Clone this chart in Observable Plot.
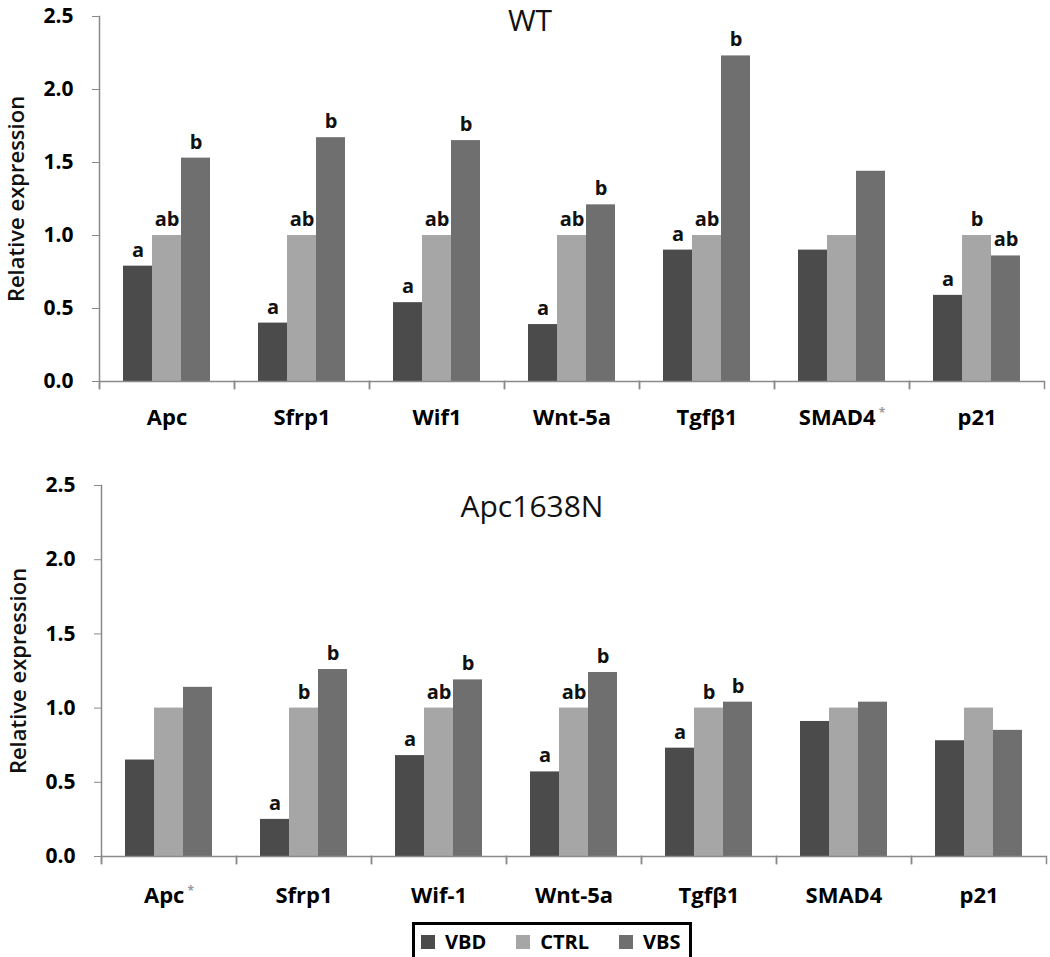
<!DOCTYPE html>
<html>
<head>
<meta charset="utf-8">
<script src="https://cdn.jsdelivr.net/npm/d3@7"></script>
<script src="https://cdn.jsdelivr.net/npm/@observablehq/plot@0.6"></script>
<style>
  html, body { margin: 0; padding: 0; background: #fff; }
  #chart { width: 1050px; font-family: "Open Sans", sans-serif; }
  #legendWrap { padding-left: 412px; margin-top: 7px; }
  #legendBox { display: inline-block; border: 3px solid #000; padding: 0 8px 0 6px; line-height: 1.2; }
  .lg-swatch { margin-right: 30px !important; }
  .lg-swatch:last-child { margin-right: 0 !important; }
</style>
</head>
<body>
<div id="chart"></div>
<script>
// ---------- data ----------
const series = ["VBD", "CTRL", "VBS"];
const seriesColors = ["#4b4b4b", "#a6a6a6", "#6f6f6f"];

const categoriesWT = ["Apc", "Sfrp1", "Wif1", "Wnt-5a", "Tgfβ1", "SMAD4", "p21"];
const wtVBD  = [0.79, 0.40, 0.54, 0.39, 0.90, 0.90, 0.59];
const wtCTRL = [1.00, 1.00, 1.00, 1.00, 1.00, 1.00, 1.00];
const wtVBS  = [1.53, 1.67, 1.65, 1.21, 2.23, 1.44, 0.86];
const wtLetVBD  = ["a", "a", "a", "a", "a", "", "a"];
const wtLetCTRL = ["ab", "ab", "ab", "ab", "ab", "", "b"];
const wtLetVBS  = ["b", "b", "b", "b", "b", "", "ab"];
const wtStarred = "SMAD4";

const categoriesApc = ["Apc", "Sfrp1", "Wif-1", "Wnt-5a", "Tgfβ1", "SMAD4", "p21"];
const apcVBD  = [0.65, 0.25, 0.68, 0.57, 0.73, 0.91, 0.78];
const apcCTRL = [1.00, 1.00, 1.00, 1.00, 1.00, 1.00, 1.00];
const apcVBS  = [1.14, 1.26, 1.19, 1.24, 1.04, 1.04, 0.85];
const apcLetVBD  = ["", "a", "a", "a", "a", "", ""];
const apcLetCTRL = ["", "b", "ab", "ab", "b", "", ""];
const apcLetVBS  = ["", "b", "b", "b", "b", "", ""];
const apcStarred = "Apc";

const yTicks = [0, 0.5, 1.0, 1.5, 2.0, 2.5];
const yLabel = "Relative expression";
const titles = ["WT", "Apc1638N"];

// ---------- helpers ----------
const FONT = "'Open Sans', sans-serif";

function toRows(cats, vals, lets) {
  const rows = [];
  cats.forEach((c, i) => {
    series.forEach((s, j) => rows.push({cat: c, series: s, value: vals[j][i], letter: lets[j][i]}));
  });
  return rows;
}

function panel({cats, vals, lets, title, starred, height, marginTop, marginBottom, marginLeft, marginRight, tickPadding, titleDy}) {
  const rows = toRows(cats, vals, lets);
  const plotH = height - marginTop - marginBottom;
  const axisGray = "#8a8a8a";
  const svg = Plot.plot({
    width: 1050,
    height, marginTop, marginBottom, marginLeft, marginRight,
    style: {fontFamily: FONT, background: "#fff", color: "#000", overflow: "visible"},
    fx: {domain: cats, paddingInner: 0, paddingOuter: 0, label: null},
    x: {domain: series, paddingInner: 0, paddingOuter: 0.76, axis: null},
    y: {domain: [0, 2.5], label: null},
    color: {domain: series, range: seriesColors},
    marks: [
      Plot.barY(rows, {fx: "cat", x: "series", y: "value", fill: "series"}),
      Plot.ruleY([0], {stroke: axisGray, strokeWidth: 1.5}),
      Plot.frame({anchor: "left", facetAnchor: "left", stroke: axisGray, strokeWidth: 1.5, insetBottom: -7}),
      Plot.frame({anchor: "left", stroke: axisGray, strokeWidth: 1.5, insetTop: plotH, insetBottom: -7}),
      Plot.frame({anchor: "right", stroke: axisGray, strokeWidth: 1.5, insetTop: plotH, insetBottom: -7}),
      Plot.text(rows.filter(d => d.letter), {fx: "cat", x: "series", y: "value", text: "letter",
        dy: -16, fontSize: 20, fontWeight: "bold", fill: "#111"}),
      Plot.axisY({ticks: yTicks, tickFormat: d3.format(".1f"), tickSize: 7, tickPadding: 19,
        stroke: axisGray, fontSize: 21, fontWeight: "bold", label: null}),
      Plot.axisFx({anchor: "bottom", tickSize: 0, tickPadding, fontSize: 22, fontWeight: "bold", label: null}),
      Plot.text([yLabel], {facet: "super", frameAnchor: "left", text: d => d, rotate: -90,
        textAnchor: "middle", lineAnchor: "middle", ariaLabel: "y-title",
        dx: -83, fontSize: 22, fontWeight: "600", fill: "#111"}),
      Plot.text([title], {facet: "super", frameAnchor: "top", text: d => d, dx: -42, dy: titleDy,
        lineAnchor: "top", fontSize: 30, fill: "#111"})
    ]
  });
  // stretch the y title to the reference's length
  svg.querySelectorAll('g[aria-label="y-title"] text').forEach(t => {
    t.setAttribute("textLength", "228");
    t.setAttribute("lengthAdjust", "spacing");
  });
  // superscript asterisk on the starred category label
  svg.querySelectorAll('[aria-label="fx-axis tick label"] text').forEach(t => {
    if (t.textContent === starred) {
      const ts = document.createElementNS("http://www.w3.org/2000/svg", "tspan");
      ts.setAttribute("dy", "-0.7em");
      ts.setAttribute("font-size", "12");
      ts.setAttribute("fill", "#999");
      ts.setAttribute("dx", "3");
      ts.textContent = "*";
      t.appendChild(ts);
    }
  });
  return svg;
}

const root = document.getElementById("chart");
root.appendChild(panel({
  cats: categoriesWT, vals: [wtVBD, wtCTRL, wtVBS], lets: [wtLetVBD, wtLetCTRL, wtLetVBS],
  title: titles[0], starred: wtStarred,
  height: 445, marginTop: 16, marginBottom: 64, marginLeft: 98, marginRight: 5, tickPadding: 28, titleDy: -7
}));
root.appendChild(panel({
  cats: categoriesApc, vals: [apcVBD, apcCTRL, apcVBS], lets: [apcLetVBD, apcLetCTRL, apcLetVBS],
  title: titles[1], starred: apcStarred,
  height: 470, marginTop: 40, marginBottom: 59, marginLeft: 100, marginRight: 3, tickPadding: 31, titleDy: 10
}));

const legend = Plot.legend({
  color: {domain: series, range: seriesColors, type: "ordinal"},
  swatchSize: 14,
  className: "lg",
  style: {fontFamily: FONT, fontSize: "20px", fontWeight: "bold", color: "#000", margin: "0"}
});
const wrap = document.createElement("div");
wrap.id = "legendWrap";
const box = document.createElement("div");
box.id = "legendBox";
box.appendChild(legend);
wrap.appendChild(box);
root.appendChild(wrap);
</script>
</body>
</html>
